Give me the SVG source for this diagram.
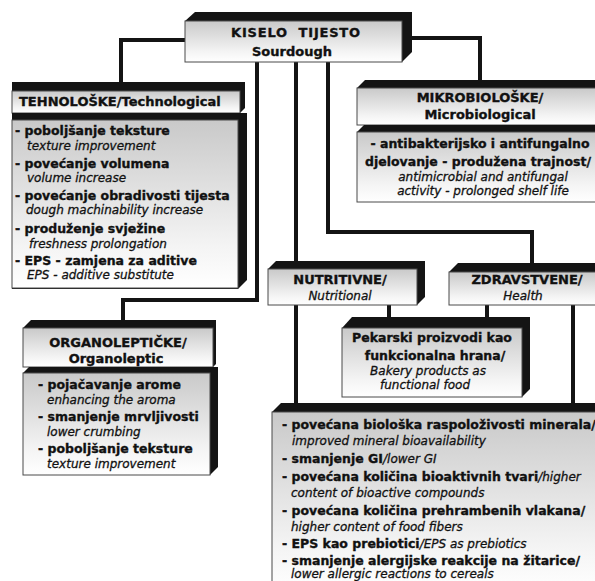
<svg xmlns="http://www.w3.org/2000/svg" width="595" height="581" viewBox="0 0 595 581">
<defs>
<linearGradient id="g" x1="0" y1="0" x2="0" y2="1">
<stop offset="0" stop-color="#c9c9c9"/>
<stop offset="0.75" stop-color="#f4f4f4"/>
<stop offset="1" stop-color="#ffffff"/>
</linearGradient>
<style>
.face{fill:url(#g);stroke:#4a4a4a;stroke-width:1}
.ext{fill:#141414}
.conn{fill:none;stroke:#141414;stroke-width:4;stroke-linejoin:miter}
.b{font-family:"DejaVu Sans","Liberation Sans",sans-serif;font-weight:bold;font-size:12.5px;fill:#111;stroke:#111;stroke-width:0.35px}
.h{font-family:"DejaVu Sans","Liberation Sans",sans-serif;font-weight:bold;font-size:13px;fill:#111;stroke:#111;stroke-width:0.35px}
.i{font-family:"DejaVu Sans","Liberation Sans",sans-serif;font-style:italic;font-weight:normal;font-size:12px;fill:#111;stroke:#111;stroke-width:0.3px}
.c{text-anchor:middle}
</style>
</defs>
<rect width="595" height="581" fill="#fff"/>
<g id="connectors">
<path class="conn" d="M185,40 H121 V84"/>
<path class="conn" d="M410,38 H480 V82"/>
<path class="conn" d="M257,62 V300 H123 V322"/>
<path class="conn" d="M296,62 V263"/>
<path class="conn" d="M328,62 V232 H532 V265"/>
<path class="conn" d="M296,305 V405"/>
<path class="conn" d="M389,305 V319"/>
<path class="conn" d="M487,305 V319"/>
<path class="conn" d="M573,305 V405"/>
</g>
<g id="kiselo">
<polygon class="ext" points="185,21 195,12 412,12 412,52 402,62"/>
<rect class="face" x="185" y="21" width="217" height="41"/>
<text class="h c" x="296" y="37" style="letter-spacing:0.8px">KISELO&#160; TIJESTO</text>
<text class="h c" x="292" y="56">Sourdough</text>
</g>
<g id="tehnoloske-header">
<polygon class="ext" points="12,82 245,82 245,108 240,113 12,113"/>
<rect class="face" x="12" y="91" width="228" height="22"/>
<text class="h" x="19" y="106">TEHNOLOŠKE/Technological</text>
</g>
<g id="tehnoloske-body">
<polygon class="ext" points="12,113 247,113 247,280 238,289 12,289"/>
<rect class="face" x="12" y="120" width="226" height="168"/>
<text class="b" x="15" y="135">- poboljšanje teksture</text>
<text class="i" x="27" y="150">texture improvement</text>
<text class="b" x="15" y="168">- povećanje volumena</text>
<text class="i" x="27" y="182">volume increase</text>
<text class="b" x="15" y="200">- povećanje obradivosti tijesta</text>
<text class="i" x="26" y="214">dough machinability increase</text>
<text class="b" x="15" y="233">- produženje svježine</text>
<text class="i" x="29" y="248">freshness prolongation</text>
<text class="b" x="15" y="265">- EPS - zamjena za aditive</text>
<text class="i" x="27" y="279">EPS - additive substitute</text>
</g>
<g id="mikrobioloske-header">
<polygon class="ext" points="357,88 365,80 600,80 600,125 357,125"/>
<rect class="face" x="357" y="88" width="245" height="37"/>
<text class="h c" x="480" y="102">MIKROBIOLOŠKE/</text>
<text class="h c" x="480" y="119">Microbiological</text>
</g>
<g id="mikrobioloske-body">
<polygon class="ext" points="357,132 364,125 600,125 600,202 357,202"/>
<rect class="face" x="357" y="132" width="245" height="70"/>
<text class="b c" x="480" y="148">- antibakterijsko i antifungalno</text>
<text class="b c" x="478" y="166">djelovanje - produžena trajnost/</text>
<text class="i c" x="483" y="181">antimicrobial and antifungal</text>
<text class="i c" x="483" y="195">activity - prolonged shelf life</text>
</g>
<g id="nutritivne">
<polygon class="ext" points="268,269 276,261 425,261 425,297 417,305"/>
<rect class="face" x="268" y="269" width="149" height="36"/>
<text class="h c" x="340" y="284">NUTRITIVNE/</text>
<text class="i c" x="340" y="300">Nutritional</text>
</g>
<g id="zdravstvene">
<polygon class="ext" points="449,272 458,263 600,263 600,305"/>
<rect class="face" x="449" y="272" width="153" height="33"/>
<text class="h c" x="527" y="284">ZDRAVSTVENE/</text>
<text class="i c" x="523" y="300">Health</text>
</g>
<g id="pekarski">
<polygon class="ext" points="342,328 352,317 530,317 530,389 522,397"/>
<rect class="face" x="342" y="328" width="180" height="69"/>
<text class="b c" x="432" y="342">Pekarski proizvodi kao</text>
<text class="b c" x="435" y="360">funkcionalna hrana/</text>
<text class="i c" x="428" y="375">Bakery products as</text>
<text class="i c" x="425" y="389">functional food</text>
</g>
<g id="organolepticke-header">
<polygon class="ext" points="23,328 31,320 216,320 216,364 213,367"/>
<rect class="face" x="23" y="328" width="190" height="39"/>
<text class="h c" x="118" y="347">ORGANOLEPTIČKE/</text>
<text class="h c" x="116" y="363">Organoleptic</text>
</g>
<g id="organolepticke-body">
<polygon class="ext" points="23,373 29,367 218,367 218,467 210,475"/>
<rect class="face" x="23" y="373" width="187" height="102"/>
<text class="b" x="38" y="389">- pojačavanje arome</text>
<text class="i" x="47" y="404">enhancing the aroma</text>
<text class="b" x="38" y="421">- smanjenje mrvljivosti</text>
<text class="i" x="47" y="436">lower crumbing</text>
<text class="b" x="38" y="453">- poboljšanje teksture</text>
<text class="i" x="47" y="468">texture improvement</text>
</g>
<g id="zdravstvene-body">
<polygon class="ext" points="272,412 281,403 600,403 600,590"/>
<rect class="face" x="272" y="412" width="330" height="180"/>
<text class="b" x="282" y="429">- povećana biološka raspoloživosti minerala/</text>
<text class="i" x="292" y="445">improved mineral bioavailability</text>
<text class="b" x="282" y="463">- smanjenje GI<tspan class="i">/lower GI</tspan></text>
<text class="b" x="282" y="481">- povećana količina bioaktivnih tvari<tspan class="i">/higher</tspan></text>
<text class="i" x="291" y="497">content of bioactive compounds</text>
<text class="b" x="282" y="515">- povećana količina prehrambenih vlakana/</text>
<text class="i" x="291" y="531">higher content of food fibers</text>
<text class="b" x="282" y="548">- EPS kao prebiotici<tspan class="i">/EPS as prebiotics</tspan></text>
<text class="b" x="282" y="565">- smanjenje alergijske reakcije na žitarice/</text>
<text class="i" x="291" y="578">lower allergic reactions to cereals</text>
</g>
</svg>
